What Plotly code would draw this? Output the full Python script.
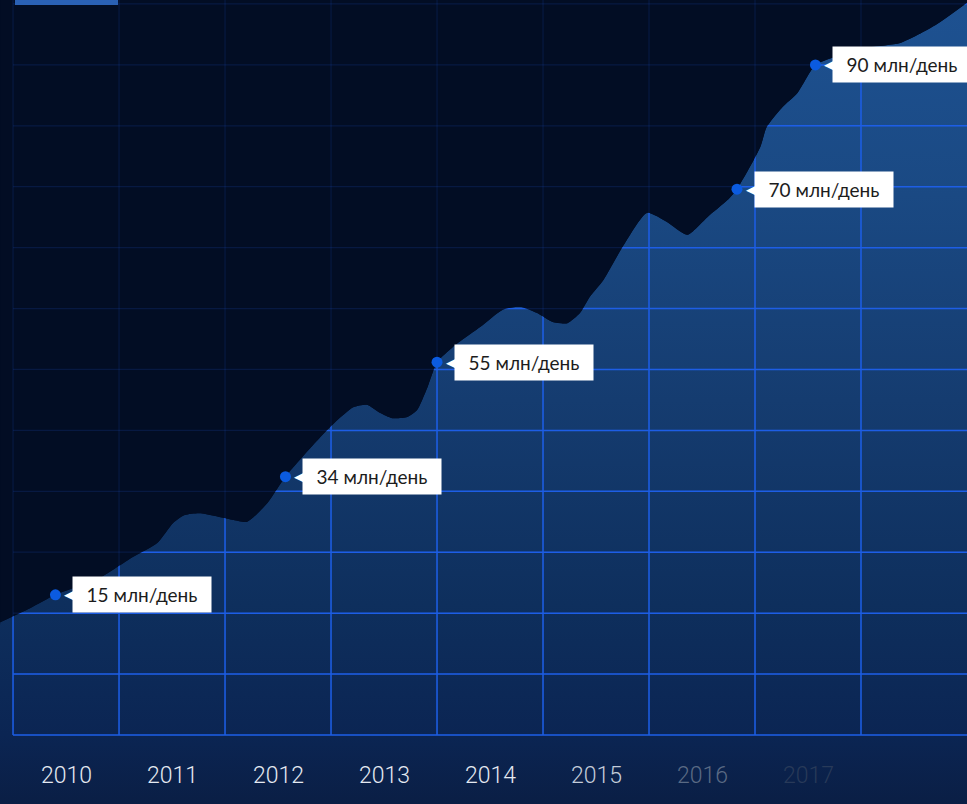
import plotly.graph_objects as go

# ---- data ----
curve_x = [2009.88, 2010.16, 2010.40, 2010.82, 2011.13, 2011.36, 2011.51, 2011.62, 2011.76,
           2012.08, 2012.21, 2012.40, 2012.57, 2012.90, 2013.06, 2013.21, 2013.34, 2013.46,
           2013.58, 2013.72, 2013.81, 2013.91, 2014.00, 2014.15, 2014.41, 2014.62, 2014.78,
           2014.94, 2015.09, 2015.23, 2015.35, 2015.44, 2015.57, 2015.75, 2015.98, 2016.17,
           2016.36, 2016.55, 2016.74, 2016.83, 2017.05, 2017.11, 2017.26, 2017.40, 2017.57,
           2017.80, 2018.08, 2018.37, 2018.70, 2019.00]
curve_y = [1.85, 2.08, 2.30, 2.58, 2.92, 3.15, 3.48, 3.61, 3.64,
           3.53, 3.50, 3.81, 4.24, 4.89, 5.17, 5.38, 5.42, 5.29,
           5.20, 5.22, 5.33, 5.71, 6.12, 6.37, 6.70, 6.98, 7.03,
           6.93, 6.78, 6.76, 6.93, 7.19, 7.47, 8.01, 8.57, 8.42,
           8.21, 8.50, 8.78, 8.96, 9.65, 9.98, 10.31, 10.54, 11.00,
           11.16, 11.29, 11.36, 11.65, 12.02]

marker_x = [2010.40, 2012.57, 2014.00, 2016.83, 2017.57]
marker_y = [2.30, 4.24, 6.12, 8.96, 11.00]
marker_values = [15, 34, 55, 70, 90]
value_suffix = " млн/день"

years = [2010, 2011, 2012, 2013, 2014, 2015, 2016, 2017]
year_colors = ["#e4e9f1", "#e4e9f1", "#e4e9f1", "#e4e9f1", "#e4e9f1",
               "#c3ccd9", "#5a6a84", "#283a59"]

grid_x = list(range(2010, 2019))
grid_y = list(range(0, 13))

X_RANGE = [2009.877, 2019.0]
Y_RANGE = [-1.133, 12.065]
BG = "#020d24"

fig = go.Figure()

# base line for the filled area (below the visible range)
fig.add_trace(go.Scatter(x=[X_RANGE[0] - 0.2, X_RANGE[1] + 0.2], y=[-1.3, -1.3],
                         mode="lines", line=dict(width=0), hoverinfo="skip"))
# gradient area under the curve
fig.add_trace(go.Scatter(
    x=curve_x, y=curve_y, mode="lines", line=dict(width=0, shape="spline", smoothing=0.6),
    fill="tonexty",
    fillgradient=dict(type="vertical", start=-1.2, stop=12.2,
                      colorscale=[[0, "#0a1e44"], [0.09, "#0b2553"], [0.25, "#0e2f5d"],
                                  [0.5, "#153c70"], [0.75, "#1a4983"], [1, "#1e5292"]]),
    hoverinfo="skip"))

# bright grid (visible only inside the area; covered above the curve)
gx, gy = [], []
for v in grid_x:
    gx += [v, v, None]
    gy += [0, Y_RANGE[1] + 1, None]
for h in grid_y:
    gx += [grid_x[0], X_RANGE[1] + 0.2, None]
    gy += [h, h, None]
fig.add_trace(go.Scatter(x=gx, y=gy, mode="lines",
                         line=dict(color="#1d5fe6", width=1.5), hoverinfo="skip"))

# dark region above the curve
fig.add_trace(go.Scatter(x=curve_x, y=curve_y, mode="lines",
                         line=dict(width=0, shape="spline", smoothing=0.6), hoverinfo="skip"))
fig.add_trace(go.Scatter(x=[curve_x[0], curve_x[-1]], y=[Y_RANGE[1] + 1, Y_RANGE[1] + 1],
                         mode="lines", line=dict(width=0), fill="tonexty", fillcolor=BG,
                         hoverinfo="skip"))

# dim grid on top
fig.add_trace(go.Scatter(x=gx, y=gy, mode="lines",
                         line=dict(color="rgba(35,95,225,0.16)", width=1.2), hoverinfo="skip"))

# dots
fig.add_trace(go.Scatter(x=marker_x, y=marker_y, mode="markers",
                         marker=dict(color="#0b5be0", size=11), hoverinfo="skip"))

# labels
for x, y, v in zip(marker_x, marker_y, marker_values):
    fig.add_annotation(x=x, y=y, text=f"{v}{value_suffix}", showarrow=False,
                       xanchor="left", yanchor="middle", xshift=17,
                       bgcolor="white", borderpad=4, width=130, height=27,
                       font=dict(family="Lato, 'Open Sans', sans-serif", size=19, color="#1c1c1c"))
    fig.add_annotation(x=x, y=y, text="◀", showarrow=False,
                       xanchor="right", yanchor="middle", xshift=21,
                       font=dict(family="DejaVu Sans", size=13, color="white"))

# year labels
for yr, col in zip(years, year_colors):
    fig.add_annotation(x=yr + 0.5, y=-0.66, text=str(yr), showarrow=False,
                       xanchor="center", yanchor="middle",
                       font=dict(family="Roboto", size=23, color=col, weight=300))

# header tab fragment at the top-left
fig.add_shape(type="rect", xref="paper", yref="paper",
              x0=15 / 967, x1=118 / 967, y0=1 - 5 / 804, y1=1.01,
              fillcolor="#2a61b5", line=dict(width=0), layer="above")

fig.update_layout(
    width=967, height=804, margin=dict(l=0, r=0, t=0, b=0),
    paper_bgcolor=BG, plot_bgcolor=BG, showlegend=False,
    xaxis=dict(range=X_RANGE, visible=False, fixedrange=True),
    yaxis=dict(range=Y_RANGE, visible=False, fixedrange=True),
)

fig.write_html("out.html", config={"displayModeBar": False},
               post_script="document.body.style.margin='0';document.body.style.overflow='hidden';")
